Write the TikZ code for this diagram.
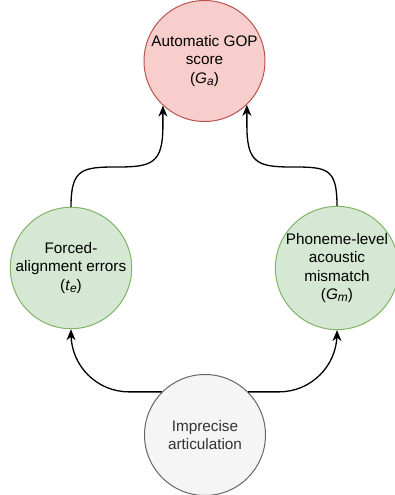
\documentclass[tikz,border=0pt]{standalone}
\usepackage{fontspec}
\setmainfont{Liberation Sans}
\usetikzlibrary{arrows.meta,calc}
\definecolor{redfill}{HTML}{F8CECC}
\definecolor{redline}{HTML}{B85450}
\definecolor{greenfill}{HTML}{D5E8D4}
\definecolor{greenline}{HTML}{82B366}
\definecolor{grayfill}{HTML}{F5F5F5}
\definecolor{grayline}{HTML}{666666}
\definecolor{graytext}{HTML}{333333}
\tikzset{
  circ/.style={circle, minimum size=121pt, inner sep=0pt, line width=1pt, align=center,
    font=\fontsize{15.3}{18.5}\selectfont},
  redc/.style={circ, fill=redfill, draw=redline},
  greenc/.style={circ, fill=greenfill, draw=greenline},
  grayc/.style={circ, fill=grayfill, draw=grayline, text=graytext},
  conn/.style={line width=1.3pt, -{Stealth[length=11pt,width=9pt,inset=3.5pt]}}
}
\newcommand{\sub}[1]{\raisebox{-0.25ex}{\fontsize{12}{12}\selectfont\textit{#1}}}
\begin{document}
\begin{tikzpicture}[x=1pt,y=-1pt]
\useasboundingbox (0,0) rectangle (395,495);
\node[redc] (ga) at (204.5,61) {Automatic GOP\\score\\(\textit{G}\sub{a})};
\node[greenc] (fa) at (71,268) {Forced-\\alignment errors\\(\textit{t}\sub{e})};
\node[greenc] (pm) at (337,268) {Phoneme-level\\acoustic\\mismatch\\(\textit{G}\sub{m})};
\node[grayc] (im) at (205,435) {Imprecise\\articulation};
\coordinate (m1) at ($(fa.north)!0.5!(ga.-133)$);
\coordinate (m2) at ($(pm.north)!0.5!(ga.-46)$);
\draw[conn] (fa.north) .. controls ($(fa.north)+(0,-38)$) and ($(m1 |- 0,167)+(-35,0)$) .. (m1 |- 0,167)
  .. controls ($(m1 |- 0,167)+(35,0)$) and ($(ga.-133)+(0,58)$) .. ($(ga.-133)+(0,20)$) -- (ga.-133);
\draw[conn] (pm.north) .. controls ($(pm.north)+(0,-38)$) and ($(m2 |- 0,167)+(35,0)$) .. (m2 |- 0,167)
  .. controls ($(m2 |- 0,167)+(-35,0)$) and ($(ga.-46)+(0,58)$) .. ($(ga.-46)+(0,20)$) -- (ga.-46);
\draw[conn, rounded corners=58pt] (im.135) -- (fa.south |- im.135) -- (fa.south);
\draw[conn, rounded corners=58pt] (im.45) -- (pm.south |- im.45) -- (pm.south);
\end{tikzpicture}
\end{document}
